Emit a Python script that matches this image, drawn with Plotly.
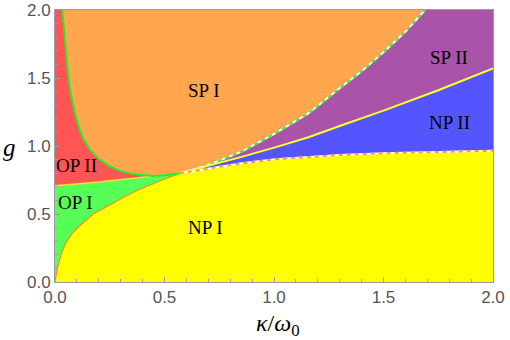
import plotly.graph_objects as go

# ---- boundary curves (kappa/omega0, g) ----
# NP I / OP I boundary (thin orange)
c1_x = [0.0, 0.003, 0.01, 0.02, 0.032, 0.05, 0.078, 0.11, 0.14, 0.175, 0.215, 0.25, 0.29, 0.33, 0.382, 0.43, 0.489, 0.53, 0.57]
c1_g = [0.0, 0.04, 0.10, 0.16, 0.223, 0.29, 0.358, 0.41, 0.45, 0.50, 0.535, 0.568, 0.603, 0.638, 0.678, 0.712, 0.75, 0.775, 0.80]
# OP I / OP II boundary (thin yellow)
c2_x = [0.0, 0.07, 0.14, 0.21, 0.29, 0.37, 0.443, 0.51, 0.57]
c2_g = [0.708, 0.715, 0.726, 0.737, 0.75, 0.765, 0.778, 0.79, 0.80]
# OP II / SP I boundary (green)
c3_x = [0.033, 0.04, 0.05, 0.061, 0.075, 0.09, 0.11, 0.13, 0.16, 0.20, 0.25, 0.30, 0.35, 0.40, 0.45, 0.50, 0.57]
c3_g = [2.0, 1.86, 1.67, 1.50, 1.36, 1.25, 1.13, 1.05, 0.97, 0.905, 0.85, 0.815, 0.795, 0.785, 0.78, 0.785, 0.80]
# SP I / SP II boundary (white-green dashed)
c4_x = [0.57, 0.60, 0.70, 0.852, 1.005, 1.157, 1.30, 1.40, 1.50, 1.60, 1.69]
c4_g = [0.80, 0.812, 0.86, 0.958, 1.093, 1.24, 1.424, 1.55, 1.69, 1.84, 2.0]
# SP II / NP II boundary (yellow)
c5_x = [0.57, 0.70, 0.852, 1.005, 1.157, 1.30, 1.50, 1.75, 2.0]
c5_g = [0.80, 0.853, 0.92, 0.99, 1.064, 1.147, 1.26, 1.41, 1.571]
# NP II / NP I boundary (white-orange dashed)
c6_x = [0.57, 0.70, 0.852, 1.005, 1.157, 1.30, 1.50, 1.75, 2.0]
c6_g = [0.80, 0.836, 0.873, 0.902, 0.921, 0.934, 0.947, 0.957, 0.965]

# region labels
label_text = ["SP I", "SP II", "NP II", "NP I", "OP I", "OP II"]
label_x = [0.68, 1.80, 1.80, 0.685, 0.095, 0.10]
label_g = [1.41, 1.65, 1.17, 0.40, 0.585, 0.86]

x_ticks = [0.0, 0.5, 1.0, 1.5, 2.0]
y_ticks = [0.0, 0.5, 1.0, 1.5, 2.0]

col_np1 = "#FFFF00"
col_op1 = "#55FF55"
col_op2 = "#FF5555"
col_sp1 = "#FFA64F"
col_sp2 = "#A953A9"
col_np2 = "#5555FF"

fig = go.Figure()

def region(xs, ys, color):
    fig.add_trace(go.Scatter(x=xs, y=ys, mode="lines", fill="toself",
                             fillcolor=color, line=dict(width=0.6, color=color),
                             hoverinfo="skip", showlegend=False))

def rev(a):
    return list(reversed(a))

# NP I
region(c1_x + c6_x + [2.0, 0.0], c1_g + c6_g + [0.0, 0.0], col_np1)
# OP I
region(c1_x + rev(c2_x), c1_g + rev(c2_g), col_op1)
# OP II
region(c2_x + rev(c3_x) + [0.0], c2_g + rev(c3_g) + [2.0], col_op2)
# SP I
region(c3_x + c4_x, c3_g + c4_g, col_sp1)
# SP II
region(c4_x + [2.0] + rev(c5_x), c4_g + [2.0] + rev(c5_g), col_sp2)
# NP II
region(c5_x + rev(c6_x), c5_g + rev(c6_g), col_np2)

def line(xs, ys, color, width, dash="solid"):
    fig.add_trace(go.Scatter(x=xs, y=ys, mode="lines",
                             line=dict(color=color, width=width, dash=dash),
                             hoverinfo="skip", showlegend=False))

line(c1_x, c1_g, "#FF8C1A", 1.2)
line(c2_x, c2_g, "#E8E830", 1.4)
line(c3_x, c3_g, "#22EE22", 2)
line(c4_x, c4_g, "#FFFFFF", 2)
line(c4_x, c4_g, "#33EE33", 2, "4px,4px")
line(c5_x, c5_g, "#FFFF33", 2)
line(c6_x, c6_g, "#FFFFFF", 2)
line(c6_x, c6_g, "#FF9933", 2, "4px,4px")

for t, x, y in zip(label_text, label_x, label_g):
    fig.add_annotation(x=x, y=y, xref="x", yref="y", text=t, showarrow=False,
                       font=dict(family="Liberation Serif", size=19, color="black"))

fig.add_annotation(x=-0.103, y=0.496, xref="paper", yref="paper", text="<i>g</i>",
                   showarrow=False, xanchor="center", yanchor="middle",
                   font=dict(family="Liberation Serif", size=25, color="black"))
fig.add_annotation(x=0.509, y=-0.158, xref="paper", yref="paper",
                   text="<i>κ</i>/<i>ω</i><sub>0</sub>",
                   showarrow=False, xanchor="center", yanchor="middle",
                   font=dict(family="Liberation Serif", size=24, color="black"))

axis_common = dict(range=[0, 2], showgrid=False, zeroline=False, showline=True,
                   mirror=True, linecolor="#9a9aa8", linewidth=1,
                   ticks="inside", ticklen=5, tickcolor="#9a9aa8", tickwidth=1,
                   tickformat=".1f", automargin=False, fixedrange=True,
                   tickfont=dict(family="Liberation Sans", size=17, color="#555555"),
                   minor=dict(ticks="inside", ticklen=3, tickcolor="#9a9aa8", dtick=0.1))

fig.update_xaxes(tickvals=x_ticks, **axis_common)
fig.update_yaxes(tickvals=y_ticks, **axis_common)

fig.update_layout(width=510, height=340,
                  margin=dict(l=55, r=17, t=10, b=58),
                  paper_bgcolor="white", plot_bgcolor="white",
                  hovermode=False)

fig.write_html("out.html", config={"displayModeBar": False},
               post_script="document.body.style.margin='0';")
